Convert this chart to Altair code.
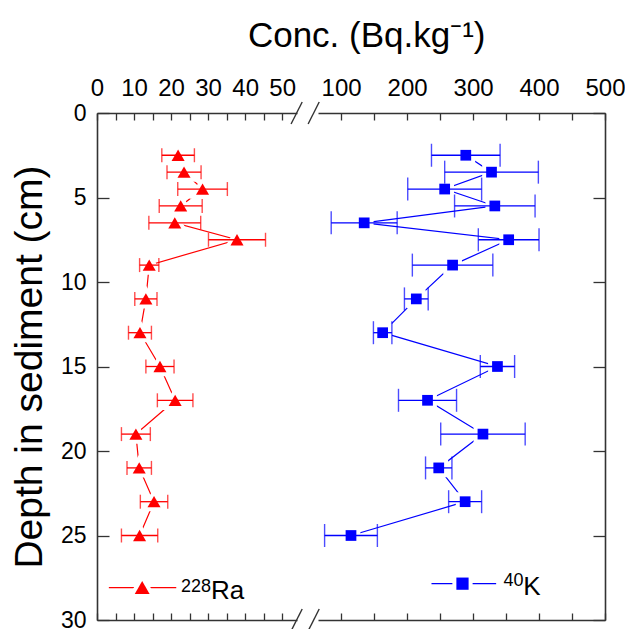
import altair as alt
import pandas as pd

# ---------------- data ----------------
depth = [2.5, 3.5, 4.5, 5.5, 6.5, 7.5, 9, 11, 13, 15, 17, 19, 21, 23, 25]
ra_val = [21.9, 23.5, 28.5, 22.6, 21.0, 37.8, 14.1, 13.2, 11.6, 17.0, 21.1, 10.5, 11.4, 15.4, 11.5]
ra_err = [4.4, 4.6, 6.7, 5.8, 7.0, 7.7, 2.6, 3.0, 3.1, 3.8, 4.8, 3.9, 3.3, 3.7, 4.9]
k_val = [289, 328, 257, 333, 135, 354, 269, 214, 163, 337, 231, 315, 248, 288, 115]
k_err = [52, 71, 56, 61, 50, 46, 61, 18, 14, 26, 44, 64, 20, 25, 40]

ra_ticks = [0, 5, 10, 15, 20, 25, 30, 35, 40, 45, 50]
k_ticks = [100, 150, 200, 250, 300, 350, 400, 450, 500]
depth_ticks = [0, 5, 10, 15, 20, 25, 30]

# axis-break slashes (data units of the left panel)
brk_x = [52.4, 57.0]
brk_x2 = [55.4, 60.0]
brk_depth = [0, 30]
brk_half = 0.65

# legend placement (data units)
ra_leg = dict(x1=3.2, x2=21.4, xm=12.2, d=28.08, xs=22.7, ds=28.33, xt=30.8, dt=28.74)
k_leg = dict(x1=237, x2=335, xm=284, d=27.85, xs=346, ds=27.98, xt=376, dt=28.5)

FONT = "Liberation Sans"
RED = "#ff0000"
BLUE = "#0000ff"
AX = "#333333"

W_L, W_R, H = 200, 287, 507

ra_df = pd.DataFrame({"depth": depth, "val": ra_val,
                      "lo": [v - e for v, e in zip(ra_val, ra_err)],
                      "hi": [v + e for v, e in zip(ra_val, ra_err)]})
k_df = pd.DataFrame({"depth": depth, "val": k_val,
                     "lo": [v - e for v, e in zip(k_val, k_err)],
                     "hi": [v + e for v, e in zip(k_val, k_err)]})

ys = alt.Scale(domain=[0, 30], reverse=True, nice=False, zero=False)
xs_ra = alt.Scale(domain=[0, 54], nice=False, zero=False)
xs_k = alt.Scale(domain=[65, 500], nice=False, zero=False)

XT = alt.ExprRef(expr="-7")
YT = alt.ExprRef(expr="-12")


def x_axis(orient, values, expr, labels):
    kw = dict(orient=orient, values=values, tickSize=XT, tickColor=AX, tickWidth=1.3,
              domainColor=AX, domainWidth=1.6, grid=False, title=None, labels=labels)
    if labels:
        kw.update(labelExpr=expr, labelFont=FONT, labelFontSize=24, labelColor="black",
                  labelPadding=25, labelBaseline="alphabetic", labelFlush=False,
                  labelOverlap=False)
    return alt.Axis(**kw)


def y_axis(orient, labels):
    kw = dict(orient=orient, values=depth_ticks, tickSize=YT, tickColor=AX, tickWidth=1.3,
              domainColor=AX, domainWidth=1.6, grid=False, labels=labels)
    if labels:
        kw.update(labelFont=FONT, labelFontSize=23, labelColor="black", labelPadding=23,
                  labelFlush=False, labelOverlap=False,
                  title="Depth in sediment (cm)", titleFont=FONT, titleFontSize=39,
                  titleFontWeight="normal", titleColor="black", titlePadding=11)
    else:
        kw.update(title=None)
    return alt.Axis(**kw)


def panel(df, xs, color, shape, msize, halo_w, cap, ticks, expr, side, leg, sup, name):
    Y = alt.Y("depth:Q", scale=ys, axis=None)
    X = alt.X("val:Q", scale=xs, axis=None)
    base = alt.Chart(df)
    line = base.mark_line(color=color, strokeWidth=1.2).encode(
        x=alt.X("val:Q", scale=xs, axis=x_axis("top", ticks, expr, True)),
        y=alt.Y("depth:Q", scale=ys, axis=y_axis(side, side == "left")),
        order="depth:Q")
    halo = base.mark_point(shape=shape, filled=True, color="white", stroke="white",
                           strokeWidth=halo_w, size=msize, opacity=1).encode(x=X, y=Y)
    err = base.mark_rule(color=color, strokeWidth=1.3).encode(
        x=alt.X("lo:Q", scale=xs, axis=x_axis("bottom", ticks, expr, False)),
        x2="hi:Q", y=Y)
    cap_lo = base.mark_tick(orient="vertical", color=color, size=cap, thickness=1.4).encode(
        x=alt.X("lo:Q", scale=xs, axis=None), y=Y)
    cap_hi = base.mark_tick(orient="vertical", color=color, size=cap, thickness=1.4).encode(
        x=alt.X("hi:Q", scale=xs, axis=None), y=Y)
    pts = base.mark_point(shape=shape, filled=True, color=color, size=msize, opacity=1).encode(x=X, y=Y)

    ldf = pd.DataFrame({"x1": [leg["x1"]], "x2": [leg["x2"]], "xm": [leg["xm"]], "d": [leg["d"]],
                        "xs": [leg["xs"]], "ds": [leg["ds"]], "xt": [leg["xt"]], "dt": [leg["dt"]],
                        "sup": [sup], "name": [name]})
    lb = alt.Chart(ldf)
    lline = lb.mark_rule(color=color, strokeWidth=1.2).encode(
        x=alt.X("x1:Q", scale=xs, axis=None), x2="x2:Q", y=alt.Y("d:Q", scale=ys, axis=None))
    lhalo = lb.mark_point(shape=shape, filled=True, color="white", stroke="white",
                          strokeWidth=halo_w, size=msize * 1.3, opacity=1).encode(
        x=alt.X("xm:Q", scale=xs, axis=None), y=alt.Y("d:Q", scale=ys, axis=None))
    lpt = lb.mark_point(shape=shape, filled=True, color=color, size=msize * 1.3, opacity=1).encode(
        x=alt.X("xm:Q", scale=xs, axis=None), y=alt.Y("d:Q", scale=ys, axis=None))
    lsup = lb.mark_text(font=FONT, fontSize=18, align="left", baseline="alphabetic", color="black").encode(
        x=alt.X("xs:Q", scale=xs, axis=None), y=alt.Y("ds:Q", scale=ys, axis=None), text="sup:N")
    lname = lb.mark_text(font=FONT, fontSize=26, align="left", baseline="alphabetic", color="black").encode(
        x=alt.X("xt:Q", scale=xs, axis=None), y=alt.Y("dt:Q", scale=ys, axis=None), text="name:N")

    return [line, halo, err, cap_lo, cap_hi, pts, lline, lhalo, lpt, lsup, lname]


left_layers = panel(ra_df, xs_ra, RED, "triangle-up", 170, 8, 14, ra_ticks,
                    "datum.value % 10 == 0 ? datum.label : ''", "left", ra_leg, "228", "Ra")

brk_rows = []
for d in brk_depth:
    for a, b in zip(brk_x, brk_x2):
        brk_rows.append({"bx": a, "bx2": b, "by": d + brk_half, "by2": d - brk_half})
brk_df = pd.DataFrame(brk_rows)
brk = alt.Chart(brk_df).mark_rule(color=AX, strokeWidth=1.4).encode(
    x=alt.X("bx:Q", scale=xs_ra, axis=None), x2="bx2:Q",
    y=alt.Y("by:Q", scale=ys, axis=None), y2="by2:Q")
left_layers.append(brk)

right_layers = panel(k_df, xs_k, BLUE, "square", 115, 8, 23, k_ticks,
                     "datum.value % 100 == 0 ? datum.label : ''", "right", k_leg, "40", "K")

left = alt.layer(*left_layers).resolve_axis(x="independent", y="independent").properties(width=W_L, height=H)
right = alt.layer(*right_layers).resolve_axis(x="independent", y="independent").properties(width=W_R, height=H)

chart = alt.hconcat(left, right, spacing=21, bounds="flush").properties(
    title=alt.TitleParams("Conc. (Bq.kg⁻¹)", font=FONT, fontSize=35, fontWeight="normal",
                          color="black", anchor="middle", offset=22, dx=49),
    padding={"left": 2, "top": 11, "right": -1, "bottom": -3},
    background="white",
).configure_view(stroke=None)

chart.save("out.html", embed_options={"renderer": "svg", "actions": False})
